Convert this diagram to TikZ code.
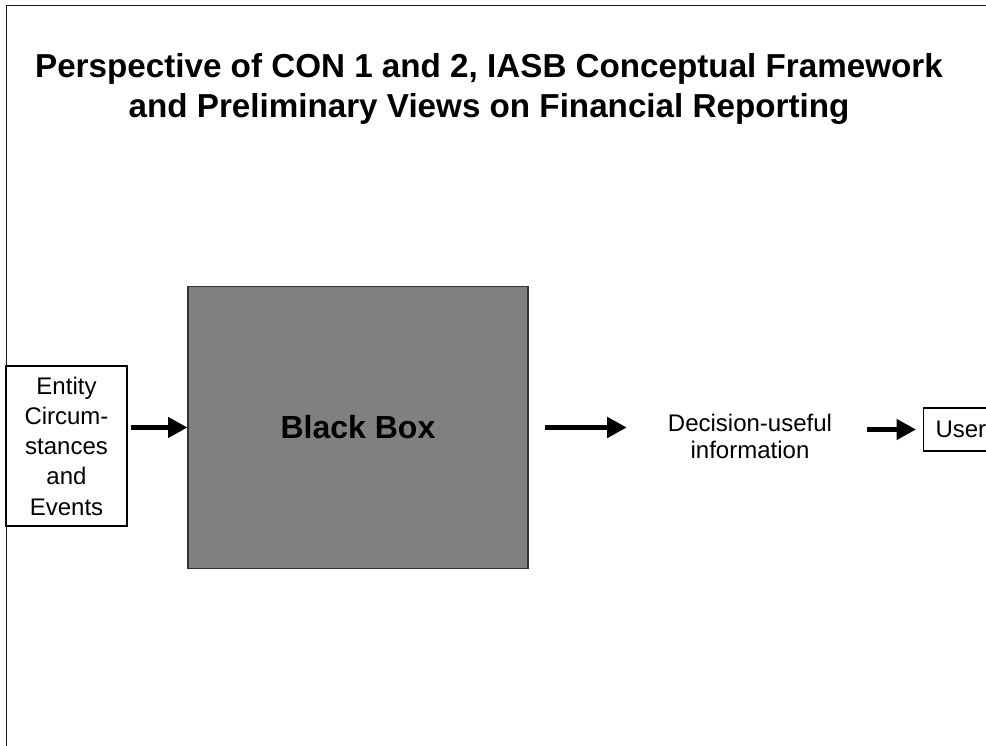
\documentclass[tikz,border=0pt]{standalone}
\usepackage{fontspec}
\setmainfont{Liberation Sans}
\usetikzlibrary{arrows.meta}
\begin{document}
\begin{tikzpicture}[x=0.75pt,y=-0.75pt,
  box/.style={draw=black, line width=0.8pt, inner sep=0pt},
  flow/.style={line width=3.4pt, -{Triangle[length=14.6pt,width=15pt]}},
  body/.style={font=\fontsize{18}{22.7}\selectfont, align=center},
  titlefont/.style={font=\bfseries\fontsize{24.9}{29.3}\selectfont, align=center}]
\useasboundingbox (0,0) rectangle (986,746);
\clip (0,0) rectangle (986,746);
\draw[line width=1.4pt, draw=black!90] (6.5,5.5) rectangle (1100,900);
\node[titlefont, anchor=base] (title) at (489,117)
  {Perspective of CON 1 and 2, IASB Conceptual Framework\\and Preliminary Views on Financial Reporting};
\node[box, body, minimum width=90.75pt, minimum height=120pt] (entity) at (66.5,446)
  {Entity\\Circum-\\stances\\and\\Events};
\node[box, draw=black!80, fill=black!50, minimum width=255pt, minimum height=211.5pt,
  font=\bfseries\fontsize{24}{29}\selectfont] (black) at (358,427.5) {Black Box};
\node[body, font=\fontsize{18}{20.25}\selectfont, inner sep=0pt] (dec) at (750,436)
  {Decision-useful\\information};
\node[box, body, anchor=west, minimum height=32.25pt, inner xsep=9pt] (user) at (923,429.5) {User};
\draw[flow, shorten <=2.25pt] (black.west -| entity.east) -- (black.west);
\draw[flow, shorten <=12pt, shorten >=30.75pt] (black.east) -- (black.east -| dec.west);
\draw[flow, shorten <=26.25pt, shorten >=5.25pt] (dec.east |- user.west) -- (user.west);
\end{tikzpicture}
\end{document}
